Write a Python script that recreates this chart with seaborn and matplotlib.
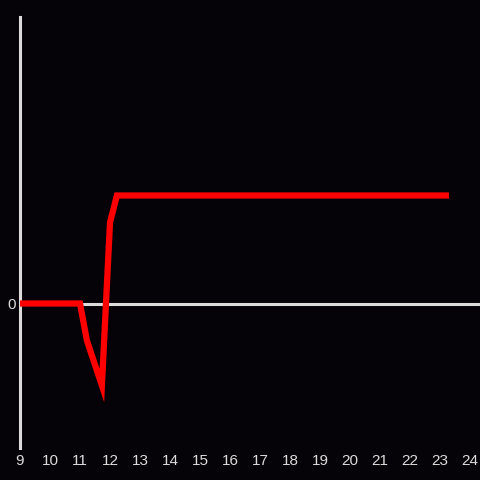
import matplotlib
matplotlib.use("Agg")
import matplotlib.pyplot as plt
import seaborn as sns
import pandas as pd

# values (y in arbitrary units, only 0 is labelled)
hours = [9.0, 11.0, 11.23, 11.73, 12.0, 12.23, 23.3]
values = [0, 0, -37, -82, 81, 108, 108]
x_ticks = list(range(9, 25))

bg = "#050307"
fg = "#dcdcdc"

sns.set_style("dark")
plt.rcParams["font.family"] = ["Liberation Sans", "DejaVu Sans"]

fig = plt.figure(figsize=(4.8, 4.8), dpi=100, facecolor=bg)
ax = fig.add_axes([20 / 480, 32 / 480, 460 / 480, 431 / 480])
ax.set_facecolor(bg)

df = pd.DataFrame({"hour": hours, "value": values})

ax.axhline(0, color=fg, lw=2.2, zorder=1)
sns.lineplot(data=df, x="hour", y="value", color="#ff0000", lw=4.5,
             ax=ax, zorder=3, solid_capstyle="butt", solid_joinstyle="miter")

ax.set_xlim(9, 9 + 460 / 30)
ax.set_ylim(-144.5, 286.5)
ax.set_xticks(x_ticks)
ax.set_xticklabels([str(t) for t in x_ticks])
ax.set_yticks([0])
ax.set_yticklabels(["0"])
ax.tick_params(colors=fg, length=0, labelsize=11, pad=4)
ax.tick_params(axis="y", pad=3)
ax.set_xlabel("")
ax.set_ylabel("")
ax.grid(False)

for side in ["top", "right", "bottom"]:
    ax.spines[side].set_visible(False)
ax.spines["left"].set_color(fg)
ax.spines["left"].set_linewidth(2.2)

fig.savefig("out.png", dpi=100, facecolor=bg)
